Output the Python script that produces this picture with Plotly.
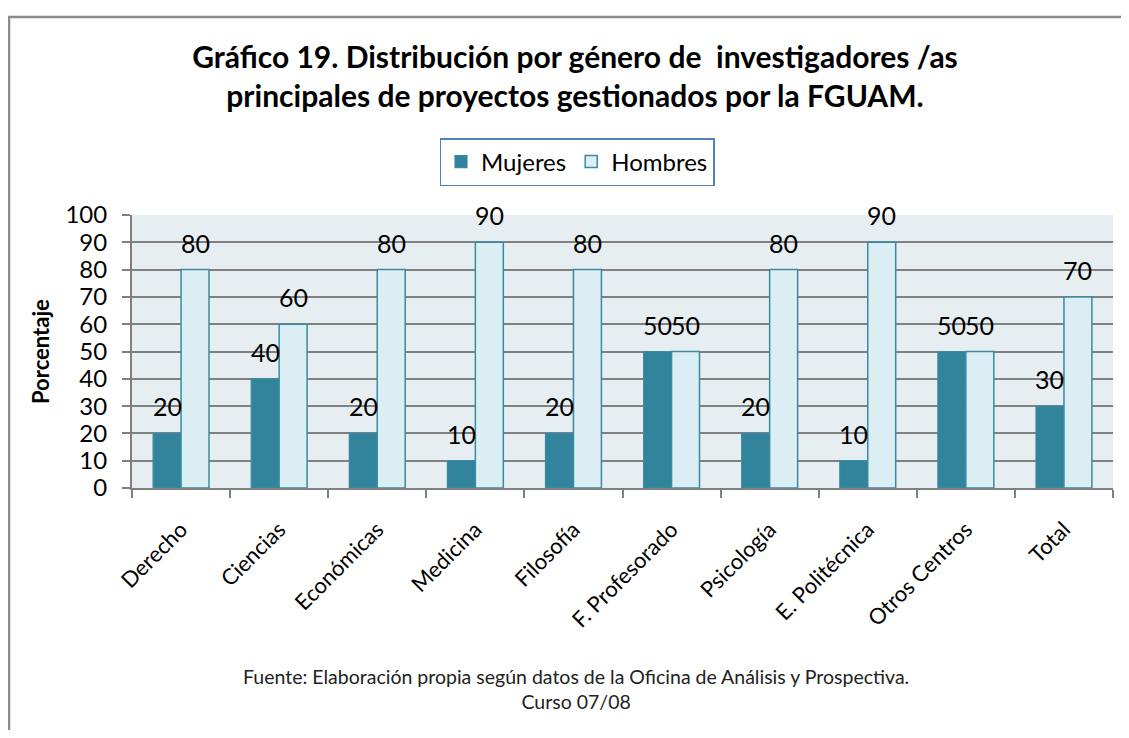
import plotly.graph_objects as go

categorias = ["Derecho", "Ciencias", "Económicas", "Medicina", "Filosofía",
              "F. Profesorado", "Psicología", "E. Politécnica", "Otros Centros", "Total"]
mujeres = [20, 40, 20, 10, 20, 50, 20, 10, 50, 30]
hombres = [80, 60, 80, 90, 80, 50, 80, 90, 50, 70]
y_ticks = list(range(0, 101, 10))

FONT = "Lato"
OFF = 8  # default page body margin
W, H = 1113, 722
ML, MR, MT, MB = 124, 8, 207, 242
PW = W - ML - MR
PH = H - MT - MB


def px_x(sx):
    return (sx - OFF - ML) / PW


def px_y(sy):
    return (H - MB - (sy - OFF)) / PH


fig = go.Figure()
fig.add_trace(go.Bar(
    name="Mujeres", x=categorias, y=mujeres,
    marker=dict(color="#31849B", line=dict(color="#3A8BA2", width=1.2)),
))
fig.add_trace(go.Bar(
    name="Hombres", x=categorias, y=hombres,
    marker=dict(color="#DBEEF4", line=dict(color="#3A8BA2", width=1.5)),
))

annotations = []
bar_px = PW / len(categorias) * (1 - 0.43) / 2
for cat, m, h in zip(categorias, mujeres, hombres):
    for val, sh in ((m, -bar_px / 2), (h, bar_px / 2)):
        annotations.append(dict(
            x=cat, y=val, xref="x", yref="y", text=str(val), showarrow=False,
            xshift=sh, yshift=27, yanchor="middle", xanchor="center",
            font=dict(family=FONT, size=25, color="black"),
        ))

annotations.append(dict(
    x=px_x(40), y=px_y(352), xref="paper", yref="paper", text="<b>Porcentaje</b>",
    textangle=-90, showarrow=False, xanchor="center", yanchor="middle",
    font=dict(family=FONT, size=22, color="black"),
))
annotations.append(dict(
    x=px_x(576), y=px_y(689), xref="paper", yref="paper",
    text="Fuente: Elaboración propia según datos de la Oficina de Análisis y Prospectiva.<br>Curso 07/08",
    showarrow=False, xanchor="center", yanchor="middle",
    font=dict(family=FONT, size=19.5, color="#222222"),
))

shapes = [dict(
    type="rect", xref="paper", yref="paper",
    x0=px_x(OFF + 1), x1=px_x(1150), y0=px_y(760), y1=px_y(17),
    line=dict(color="#8C8C8C", width=2.5), fillcolor="rgba(0,0,0,0)", layer="above",
)]

fig.update_layout(
    width=W, height=H,
    margin=dict(l=ML, r=MR, t=MT, b=MB),
    paper_bgcolor="white",
    plot_bgcolor="#E7EEF2",
    barmode="group",
    bargap=0.43,
    bargroupgap=0,
    font=dict(family=FONT, color="black"),
    title=dict(
        text="<b>Gráfico 19. Distribución por género de  investigadores /as<br>principales de proyectos gestionados por la FGUAM.</b>",
        x=(575 - OFF) / W, xref="container", xanchor="center",
        y=1 - (68 - OFF) / H, yref="container", yanchor="middle",
        font=dict(family=FONT, size=30, color="black"),
    ),
    legend=dict(
        orientation="h", x=px_x(577), xanchor="center", y=px_y(162), yanchor="middle",
        bordercolor="#4F81BD", borderwidth=1.5, bgcolor="white",
        font=dict(family=FONT, size=24, color="black"),
        itemwidth=30,
    ),
    xaxis=dict(
        type="category", tickangle=-45, tickson="boundaries",
        ticks="outside", ticklen=8, tickcolor="#808080", tickwidth=2,
        showline=True, linecolor="#808080", linewidth=2,
        tickfont=dict(family=FONT, size=22, color="black"),
        ticklabelstandoff=18,
        showgrid=False,
    ),
    yaxis=dict(
        range=[0, 100], tickvals=y_ticks, ticks="outside", ticklen=8,
        tickcolor="#808080", tickwidth=2,
        showline=True, linecolor="#808080", linewidth=2,
        showgrid=True, gridcolor="#808080", gridwidth=2,
        zeroline=False,
        ticklabelstandoff=10,
        tickfont=dict(family=FONT, size=24, color="black"),
    ),
    annotations=annotations,
    shapes=shapes,
)

fig.write_html("out.html")
